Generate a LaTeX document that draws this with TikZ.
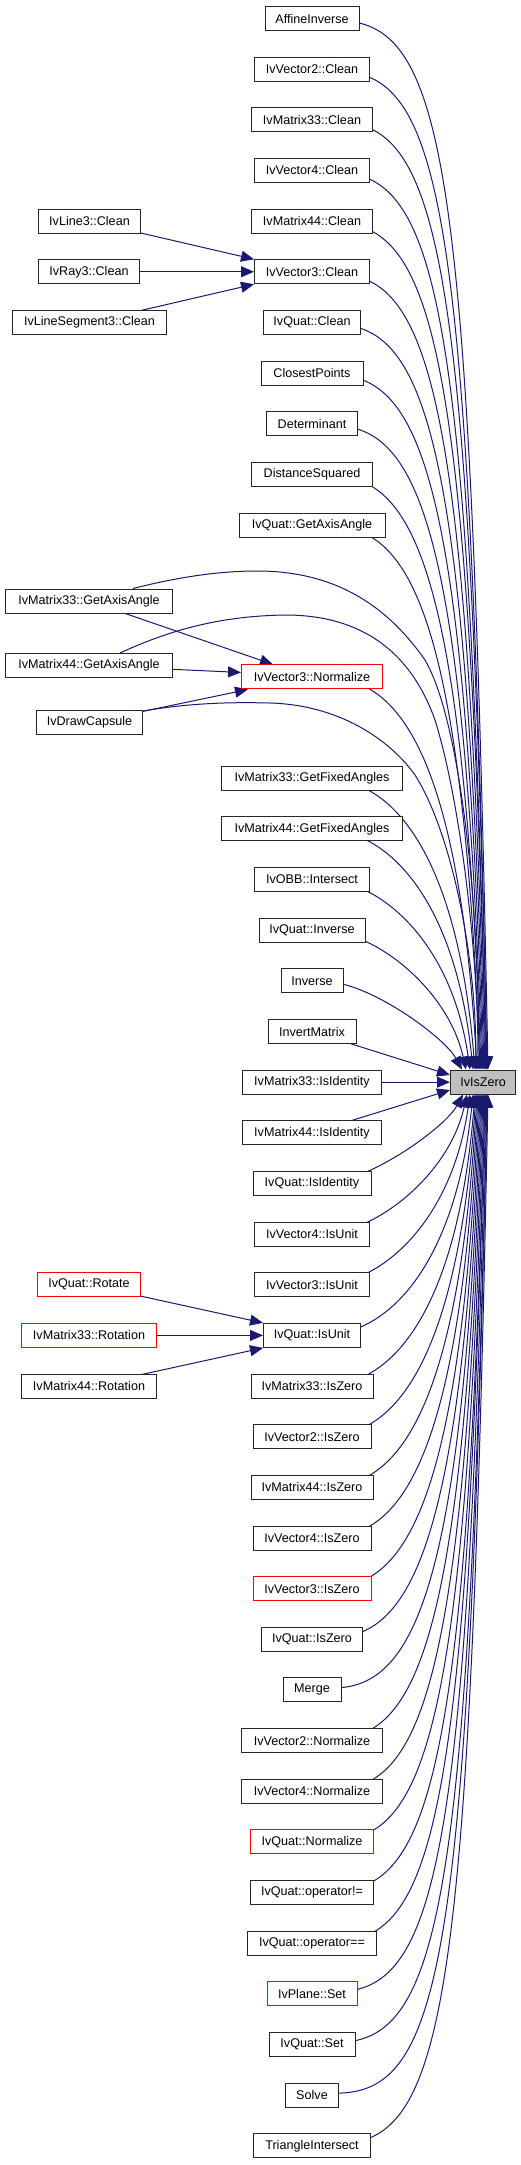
\documentclass[tikz,border=0pt]{standalone}
\usepackage{fontspec}
\setmainfont{Liberation Sans}
\usetikzlibrary{arrows.meta,calc}
\pgfdeclarelayer{bg}
\pgfsetlayers{bg,main}
\definecolor{edgecol}{HTML}{191970}
\definecolor{zgray}{HTML}{BFBFBF}
\definecolor{boxred}{HTML}{FF0000}
\definecolor{k}{HTML}{262626}
\tikzset{
  fn/.style={draw=k, line width=1pt, fill=white, rectangle, minimum height=24pt,
    inner xsep=3pt, inner ysep=0pt, font=\fontsize{12.6}{15}\selectfont, text=black},
  conn/.style={draw=edgecol, line width=1pt, -{Triangle[length=13pt,width=11pt]}}
}
\begin{document}
\begin{tikzpicture}[x=1pt,y=-1pt]
\useasboundingbox (0,0) rectangle (521,2165);
\begin{pgfonlayer}{bg}
\fill[white] (0,0) rectangle (521,2165);
\end{pgfonlayer}

\node[fn, fill=zgray, minimum width=65pt] (z) at (483,1082) {IvIsZero};

\foreach \id/\r/\w/\bc/\lab in {
 aff/0/95/k/AffineInverse,
 v2c/1/116/k/IvVector2::Clean,
 m33c/2/122/k/IvMatrix33::Clean,
 v4c/3/116/k/IvVector4::Clean,
 m44c/4/122/k/IvMatrix44::Clean,
 v3c/5/116/k/IvVector3::Clean,
 qc/6/98/k/IvQuat::Clean,
 cp/7/103/k/ClosestPoints,
 det/8/92/k/Determinant,
 ds/9/122/k/DistanceSquared,
 qga/10/147/k/IvQuat::GetAxisAngle,
 n3/13/142/boxred/IvVector3::Normalize,
 m33fa/15/182/k/IvMatrix33::GetFixedAngles,
 m44fa/16/182/k/IvMatrix44::GetFixedAngles,
 obb/17/116/k/IvOBB::Intersect,
 qinv/18/107/k/IvQuat::Inverse,
 inv/19/63/k/Inverse,
 invm/20/89/k/InvertMatrix,
 m33id/21/140/k/IvMatrix33::IsIdentity,
 m44id/22/140/k/IvMatrix44::IsIdentity,
 qid/23/119/k/IvQuat::IsIdentity,
 v4u/24/116/k/IvVector4::IsUnit,
 v3u/25/116/k/IvVector3::IsUnit,
 qu/26/98/k/IvQuat::IsUnit,
 m33z/27/123/k/IvMatrix33::IsZero,
 v2z/28/119/k/IvVector2::IsZero,
 m44z/29/123/k/IvMatrix44::IsZero,
 v4z/30/119/k/IvVector4::IsZero,
 v3z/31/119/boxred/IvVector3::IsZero,
 qz/32/102/k/IvQuat::IsZero,
 merge/33/59/k/Merge,
 v2n/34/142/k/IvVector2::Normalize,
 v4n/35/142/k/IvVector4::Normalize,
 qn/36/124/boxred/IvQuat::Normalize,
 qne/37/124/k/IvQuat::operator!=,
 qeq/38/130/k/IvQuat::operator==,
 ps/39/91/boxred/IvPlane::Set,
 qs/40/87/k/IvQuat::Set,
 solve/41/54/k/Solve,
 tri/42/118/k/TriangleIntersect}
 \node[fn, draw=\bc, minimum width=\w*1pt-1pt] (\id) at (312,{18.5+50.65*\r}) {\lab};

\node[fn, minimum width=102pt] (l3c) at (89.5,{18.5+50.65*4}) {IvLine3::Clean};
\node[fn, minimum width=101pt] (r3c) at (89,{18.5+50.65*5}) {IvRay3::Clean};
\node[fn, minimum width=154pt] (ls3c) at (89.5,{18.5+50.65*6}) {IvLineSegment3::Clean};
\node[fn, minimum width=167pt] (m33ga) at (89,601) {IvMatrix33::GetAxisAngle};
\node[fn, minimum width=167pt] (m44ga) at (89,665.5) {IvMatrix44::GetAxisAngle};
\node[fn, minimum width=106pt] (cap) at (89.5,722.5) {IvDrawCapsule};
\node[fn, draw=boxred, minimum width=103pt] (qrot) at (89,{18.5+50.65*25}) {IvQuat::Rotate};
\node[fn, draw=boxred, minimum width=135pt] (m33rot) at (89,{18.5+50.65*26}) {IvMatrix33::Rotation};
\node[fn, minimum width=135pt] (m44rot) at (89,{18.5+50.65*27}) {IvMatrix44::Rotation};

\begin{pgfonlayer}{bg}
\foreach \id/\r/\ex in {aff/0/488, v2c/1/487, m33c/2/487, v4c/3/486, m44c/4/486,
  v3c/5/485, qc/6/484, cp/7/483, det/8/482, ds/9/481, qga/10/480, n3/13/477,
  m33fa/15/475, m44fa/16/473, obb/17/470, qinv/18/466, inv/19/462}{
  \pgfmathsetmacro\qd{1069-(20.5+50.65*\r)}
  \pgfmathsetmacro\qa{44+(\qd-136)*0.0713}
  \pgfmathsetmacro\qb{max(0,5.5-(\qd-136)*0.006)}
  \pgfmathsetmacro\qe{\qd-57.5-(\qd-136)*0.0795}
  \draw[conn] ($(\id.center)+(24,2)$) .. controls +(\qa,\qb) and +(-18,-\qe) .. ($(z.north)+(\ex-483,0)$);
}
\foreach \id/\r/\ex in {qid/23/463, v4u/24/467, v3u/25/470, qu/26/473, m33z/27/475,
  v2z/28/476, m44z/29/477, v4z/30/478, v3z/31/479, qz/32/480, merge/33/481,
  v2n/34/482, v4n/35/483, qn/36/484, qne/37/485, qeq/38/485, ps/39/486,
  qs/40/487, solve/41/487, tri/42/488}{
  \pgfmathsetmacro\qd{(16.5+50.65*\r)-1095}
  \pgfmathsetmacro\qa{44+(\qd-136)*0.0713}
  \pgfmathsetmacro\qb{max(0,5.5-(\qd-136)*0.006)}
  \pgfmathsetmacro\qe{\qd-57.5-(\qd-136)*0.0795}
  \draw[conn] ($(\id.center)+(24,-2)$) .. controls +(\qa,-\qb) and +(-18,\qe) .. ($(z.south)+(\ex-483,0)$);
}
\draw[conn] (invm.center) -- ($(z.west)+(0,-7)$);
\draw[conn] (m33id.east) -- (m33id.east -| z.west);
\draw[conn] (m44id.center) -- ($(z.west)+(0,8)$);
\draw[conn] (l3c.center) -- (v3c.north west);
\draw[conn] (r3c.center) -- (r3c.center -| v3c.west);
\draw[conn] (ls3c.center) -- (v3c.south west);
\draw[conn] (qrot.center) -- (qu.north west);
\draw[conn] (m33rot.center) -- (m33rot.center -| qu.west);
\draw[conn] (m44rot.center) -- (qu.south west);
\draw[conn] (m33ga.center) -- ($(n3.north west)+(32,0)$);
\draw[conn] (m44ga.center) -- ($(n3.west)+(0,-4.5)$);
\draw[conn] (cap.center) -- ($(n3.south west)+(7,0)$);
\draw[conn] ($(m33ga.north)+(44,0)$) .. controls (190,574) and (230,571) .. (257,571)
   .. controls (340,571) and (390,610) .. (425,660)
   .. controls (460,720) and (479,900) .. ($(z.north)+(-4,0)$);
\draw[conn] ($(m44ga.north)+(31,0)$) .. controls (170,630) and (220,616) .. (285,615)
   .. controls (360,615) and (410,650) .. (435,720)
   .. controls (460,800) and (478,950) .. ($(z.north)+(-5,0)$);
\draw[conn] ($(cap.north east)+(0,1)$) .. controls (190,703) and (230,702) .. (270,703)
   .. controls (340,705) and (390,740) .. (415,775)
   .. controls (450,830) and (476,950) .. ($(z.north)+(-7,0)$);
\end{pgfonlayer}
\end{tikzpicture}
\end{document}
